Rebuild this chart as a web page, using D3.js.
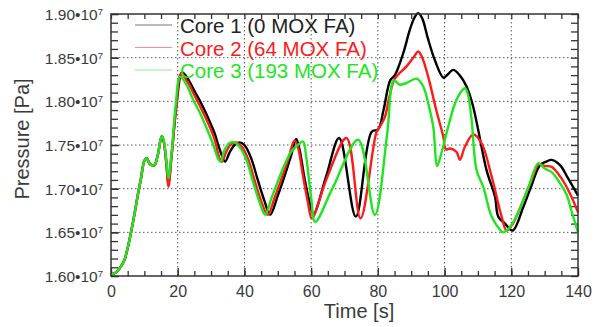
<!DOCTYPE html>
<html>
<head>
<meta charset="utf-8">
<script src="https://cdn.jsdelivr.net/npm/d3@7"></script>
<style>
  body { margin: 0; background: #fff; }
  svg { display: block; font-family: "Liberation Sans", Arial, sans-serif; }
  .grid line { stroke: #555; stroke-dasharray: 1.5,2.5; stroke-width: 1; }
  .axis path { display: none; }
  .axis line { stroke: #333; stroke-width: 1.3; }
</style>
</head>
<body>
<div id="chart"></div>
<script>
// data: [time s, pressure in 1e7 Pa]
const core1 = [
  [0,1.602],[1,1.603],[2,1.606],[3,1.611],[4,1.618],[5,1.632],[6,1.650],[7,1.670],[8,1.692],[9,1.712],[10,1.732],
  [10.7,1.735],[11.7,1.728],[13,1.727],[14,1.738],[15.2,1.760],[15.7,1.756],[16.6,1.730],[17.2,1.706],[18.2,1.740],
  [19.7,1.798],[21.3,1.833],[23,1.826],[25,1.812],[27,1.798],[29,1.782],[31,1.764],[32.5,1.746],[34.2,1.731],
  [35.5,1.741],[37,1.750],[38.5,1.753],[40,1.750],[42,1.735],[44,1.710],[46,1.686],[47.7,1.670],[50,1.692],
  [52,1.714],[54,1.738],[55.5,1.757],[56.5,1.745],[58,1.712],[59.5,1.685],[60.7,1.671],[64.5,1.714],[68.4,1.758],
  [73.4,1.668],[78.1,1.765],[80.1,1.768],[81.7,1.790],[83.7,1.824],[85.1,1.830],[87.6,1.855],[89.6,1.882],
  [91,1.896],[92.1,1.901],[93.3,1.895],[95,1.872],[97.1,1.847],[99.7,1.827],[101,1.831],[102.6,1.836],[104.5,1.830],
  [106.6,1.817],[108.5,1.795],[110.1,1.767],[112.6,1.721],[115.1,1.691],[116.1,1.668],[118.1,1.660],[120.4,1.652],
  [123.6,1.679],[126,1.703],[128.6,1.727],[130.5,1.731],[132.1,1.733],[134.6,1.727],[137,1.712],[140,1.692]
];
const core2 = [
  [0,1.602],[1,1.603],[2,1.606],[3,1.611],[4,1.618],[5,1.632],[6,1.650],[7,1.670],[8,1.692],[9,1.712],[10,1.732],
  [10.7,1.735],[11.7,1.728],[13,1.727],[14,1.738],[15.2,1.760],[15.7,1.756],[16.6,1.728],[17.2,1.702],[18.2,1.738],
  [19.6,1.796],[21,1.831],[23,1.822],[25,1.807],[27,1.792],[29,1.776],[31,1.757],[32.7,1.733],[33.3,1.731],
  [34.5,1.742],[36,1.751],[37.5,1.753],[39,1.749],[41,1.735],[43,1.710],[45,1.686],[47,1.670],[49,1.689],
  [51,1.710],[53,1.732],[55,1.755],[56,1.748],[57.5,1.716],[59,1.685],[60.2,1.666],[64.7,1.712],[70.6,1.758],
  [74.8,1.666],[79.6,1.765],[80.6,1.771],[82.1,1.782],[83.5,1.806],[85.1,1.826],[88.6,1.840],[91,1.852],
  [92.1,1.857],[93.3,1.850],[95.1,1.828],[97.5,1.790],[99.6,1.760],[100.4,1.745],[101.6,1.746],[103.6,1.742],
  [104.6,1.733],[106.1,1.748],[108.6,1.762],[111.1,1.752],[114.1,1.714],[117.1,1.668],[118.6,1.652],[120.5,1.660],
  [123.5,1.686],[126,1.709],[128.3,1.728],[130,1.726],[132.1,1.725],[135,1.712],[137.5,1.695],[140,1.673]
];
const core3 = [
  [0,1.602],[1,1.603],[2,1.606],[3,1.611],[4,1.618],[5,1.632],[6,1.650],[7,1.670],[8,1.692],[9,1.712],[10,1.732],
  [10.7,1.735],[11.7,1.728],[13,1.727],[14,1.738],[15.2,1.760],[15.7,1.757],[16.6,1.733],[17.2,1.712],[18.2,1.742],
  [19.4,1.796],[20.7,1.828],[22.5,1.820],[24.5,1.803],[26.5,1.788],[28.5,1.771],[30.5,1.752],[32.3,1.733],[32.9,1.731],
  [34,1.744],[35.5,1.752],[37,1.753],[38.5,1.748],[40.5,1.734],[42.5,1.709],[44.5,1.685],[46.2,1.670],[48,1.688],
  [50,1.708],[52,1.727],[54,1.742],[56,1.750],[57.6,1.754],[58.5,1.737],[60,1.690],[61.2,1.662],[66.6,1.702],
  [74.1,1.756],[79.1,1.670],[82.8,1.763],[84.8,1.824],[86.6,1.819],[88.6,1.821],[91.6,1.826],[93.6,1.817],
  [95.1,1.798],[96.6,1.771],[97.8,1.726],[99,1.740],[101.1,1.771],[103.6,1.802],[106.1,1.815],[107,1.808],
  [108.1,1.779],[109.6,1.721],[111.6,1.702],[114.1,1.668],[116.6,1.653],[117.5,1.650],[119.6,1.656],[122,1.672],
  [125,1.700],[128.1,1.729],[130,1.723],[132.1,1.719],[134.5,1.707],[136.6,1.693],[138,1.675],[140,1.650]
];
const seriesNames = ["Core 1 (0 MOX FA)", "Core 2 (64 MOX FA)", "Core 3 (193 MOX FA)"];
const seriesColors = ["#000000", "#ff1a1a", "#1ee61e"];
const legendLineColors = ["#777777", "#ff8c8c", "#8cf08c"];
const xMajor = [0, 20, 40, 60, 80, 100, 120, 140];
const yMajor = [1.60, 1.65, 1.70, 1.75, 1.80, 1.85, 1.90];

const width = 602, height = 327;
const margin = { top: 14, right: 24, bottom: 51, left: 111 };
const iw = width - margin.left - margin.right;
const ih = height - margin.top - margin.bottom;

const svg = d3.select("#chart").append("svg")
  .attr("width", width)
  .attr("height", height);

const g = svg.append("g").attr("transform", `translate(${margin.left},${margin.top})`);

const x = d3.scaleLinear().domain([0, 140]).range([0, iw]);
const y = d3.scaleLinear().domain([1.60, 1.90]).range([ih, 0]);

// grid
g.append("g").attr("class", "grid")
  .selectAll("line.v").data(xMajor.slice(1, -1)).join("line")
  .attr("x1", d => x(d)).attr("x2", d => x(d)).attr("y1", 0).attr("y2", ih);
g.append("g").attr("class", "grid")
  .selectAll("line.h").data(yMajor.slice(1, -1)).join("line")
  .attr("y1", d => y(d)).attr("y2", d => y(d)).attr("x1", 0).attr("x2", iw);

// minor ticks, inward on all sides
const xMinor = d3.range(0, 140.1, 5);
const yMinor = d3.range(0, 31).map(i => 1.60 + i * 0.01);
g.append("g").attr("class", "axis").attr("transform", `translate(0,${ih})`)
  .call(d3.axisBottom(x).tickValues(xMinor).tickSize(-5).tickFormat(""));
g.append("g").attr("class", "axis")
  .call(d3.axisTop(x).tickValues(xMinor).tickSize(-5).tickFormat(""));
g.append("g").attr("class", "axis")
  .call(d3.axisLeft(y).tickValues(yMinor).tickSize(-7).tickFormat(""));
g.append("g").attr("class", "axis").attr("transform", `translate(${iw},0)`)
  .call(d3.axisRight(y).tickValues(yMinor).tickSize(-7).tickFormat(""));

// major labeled axes
const xAxis = g.append("g").attr("class", "axis").attr("transform", `translate(0,${ih})`)
  .call(d3.axisBottom(x).tickValues(xMajor).tickSize(-8).tickPadding(10).tickFormat(d3.format("d")));
xAxis.selectAll("text").attr("font-size", 16).attr("fill", "#3a3a3a")
  .attr("font-family", "Liberation Sans, Arial, sans-serif");

const yAxis = g.append("g").attr("class", "axis")
  .call(d3.axisLeft(y).tickValues(yMajor).tickSize(-8).tickPadding(0));
yAxis.selectAll("text").each(function(d) {
  const t = d3.select(this).text(null)
    .attr("x", -8).attr("dy", "0.36em")
    .attr("font-size", 15.5).attr("fill", "#3a3a3a")
    .attr("font-family", "Liberation Sans, Arial, sans-serif");
  t.append("tspan").text(d3.format(".2f")(d) + "\u202210");
  t.append("tspan").text("7").attr("font-size", 9.5).attr("dy", "-0.55em");
});

// lines
const line = d3.line()
  .x(d => x(d[0]))
  .y(d => y(d[1]))
  .curve(d3.curveCatmullRom.alpha(0.5));

[core1, core2, core3].forEach((data, i) => {
  g.append("path")
    .datum(data)
    .attr("fill", "none")
    .attr("stroke", seriesColors[i])
    .attr("stroke-width", 2.4)
    .attr("stroke-linejoin", "round")
    .attr("d", line);
});

// frame
g.append("rect")
  .attr("width", iw).attr("height", ih)
  .attr("fill", "none").attr("stroke", "#333").attr("stroke-width", 1.5);

// legend
const legend = svg.append("g");
seriesNames.forEach((name, i) => {
  const ly = 25 + i * 22.5;
  legend.append("line")
    .attr("x1", 135).attr("x2", 172).attr("y1", ly).attr("y2", ly)
    .attr("stroke", legendLineColors[i]).attr("stroke-width", 1.2);
  legend.append("text")
    .attr("x", 180).attr("y", ly + 8)
    .attr("font-size", 20.5)
    .attr("fill", i === 0 ? "#222" : seriesColors[i])
    .text(name);
});

// axis titles
svg.append("text")
  .attr("x", 359).attr("y", 318)
  .attr("text-anchor", "middle")
  .attr("font-size", 20).attr("fill", "#3a3a3a")
  .text("Time [s]");

svg.append("text")
  .attr("transform", "translate(29,139) rotate(-90)")
  .attr("text-anchor", "middle")
  .attr("font-size", 20).attr("fill", "#3a3a3a")
  .text("Pressure [Pa]");
</script>
</body>
</html>
